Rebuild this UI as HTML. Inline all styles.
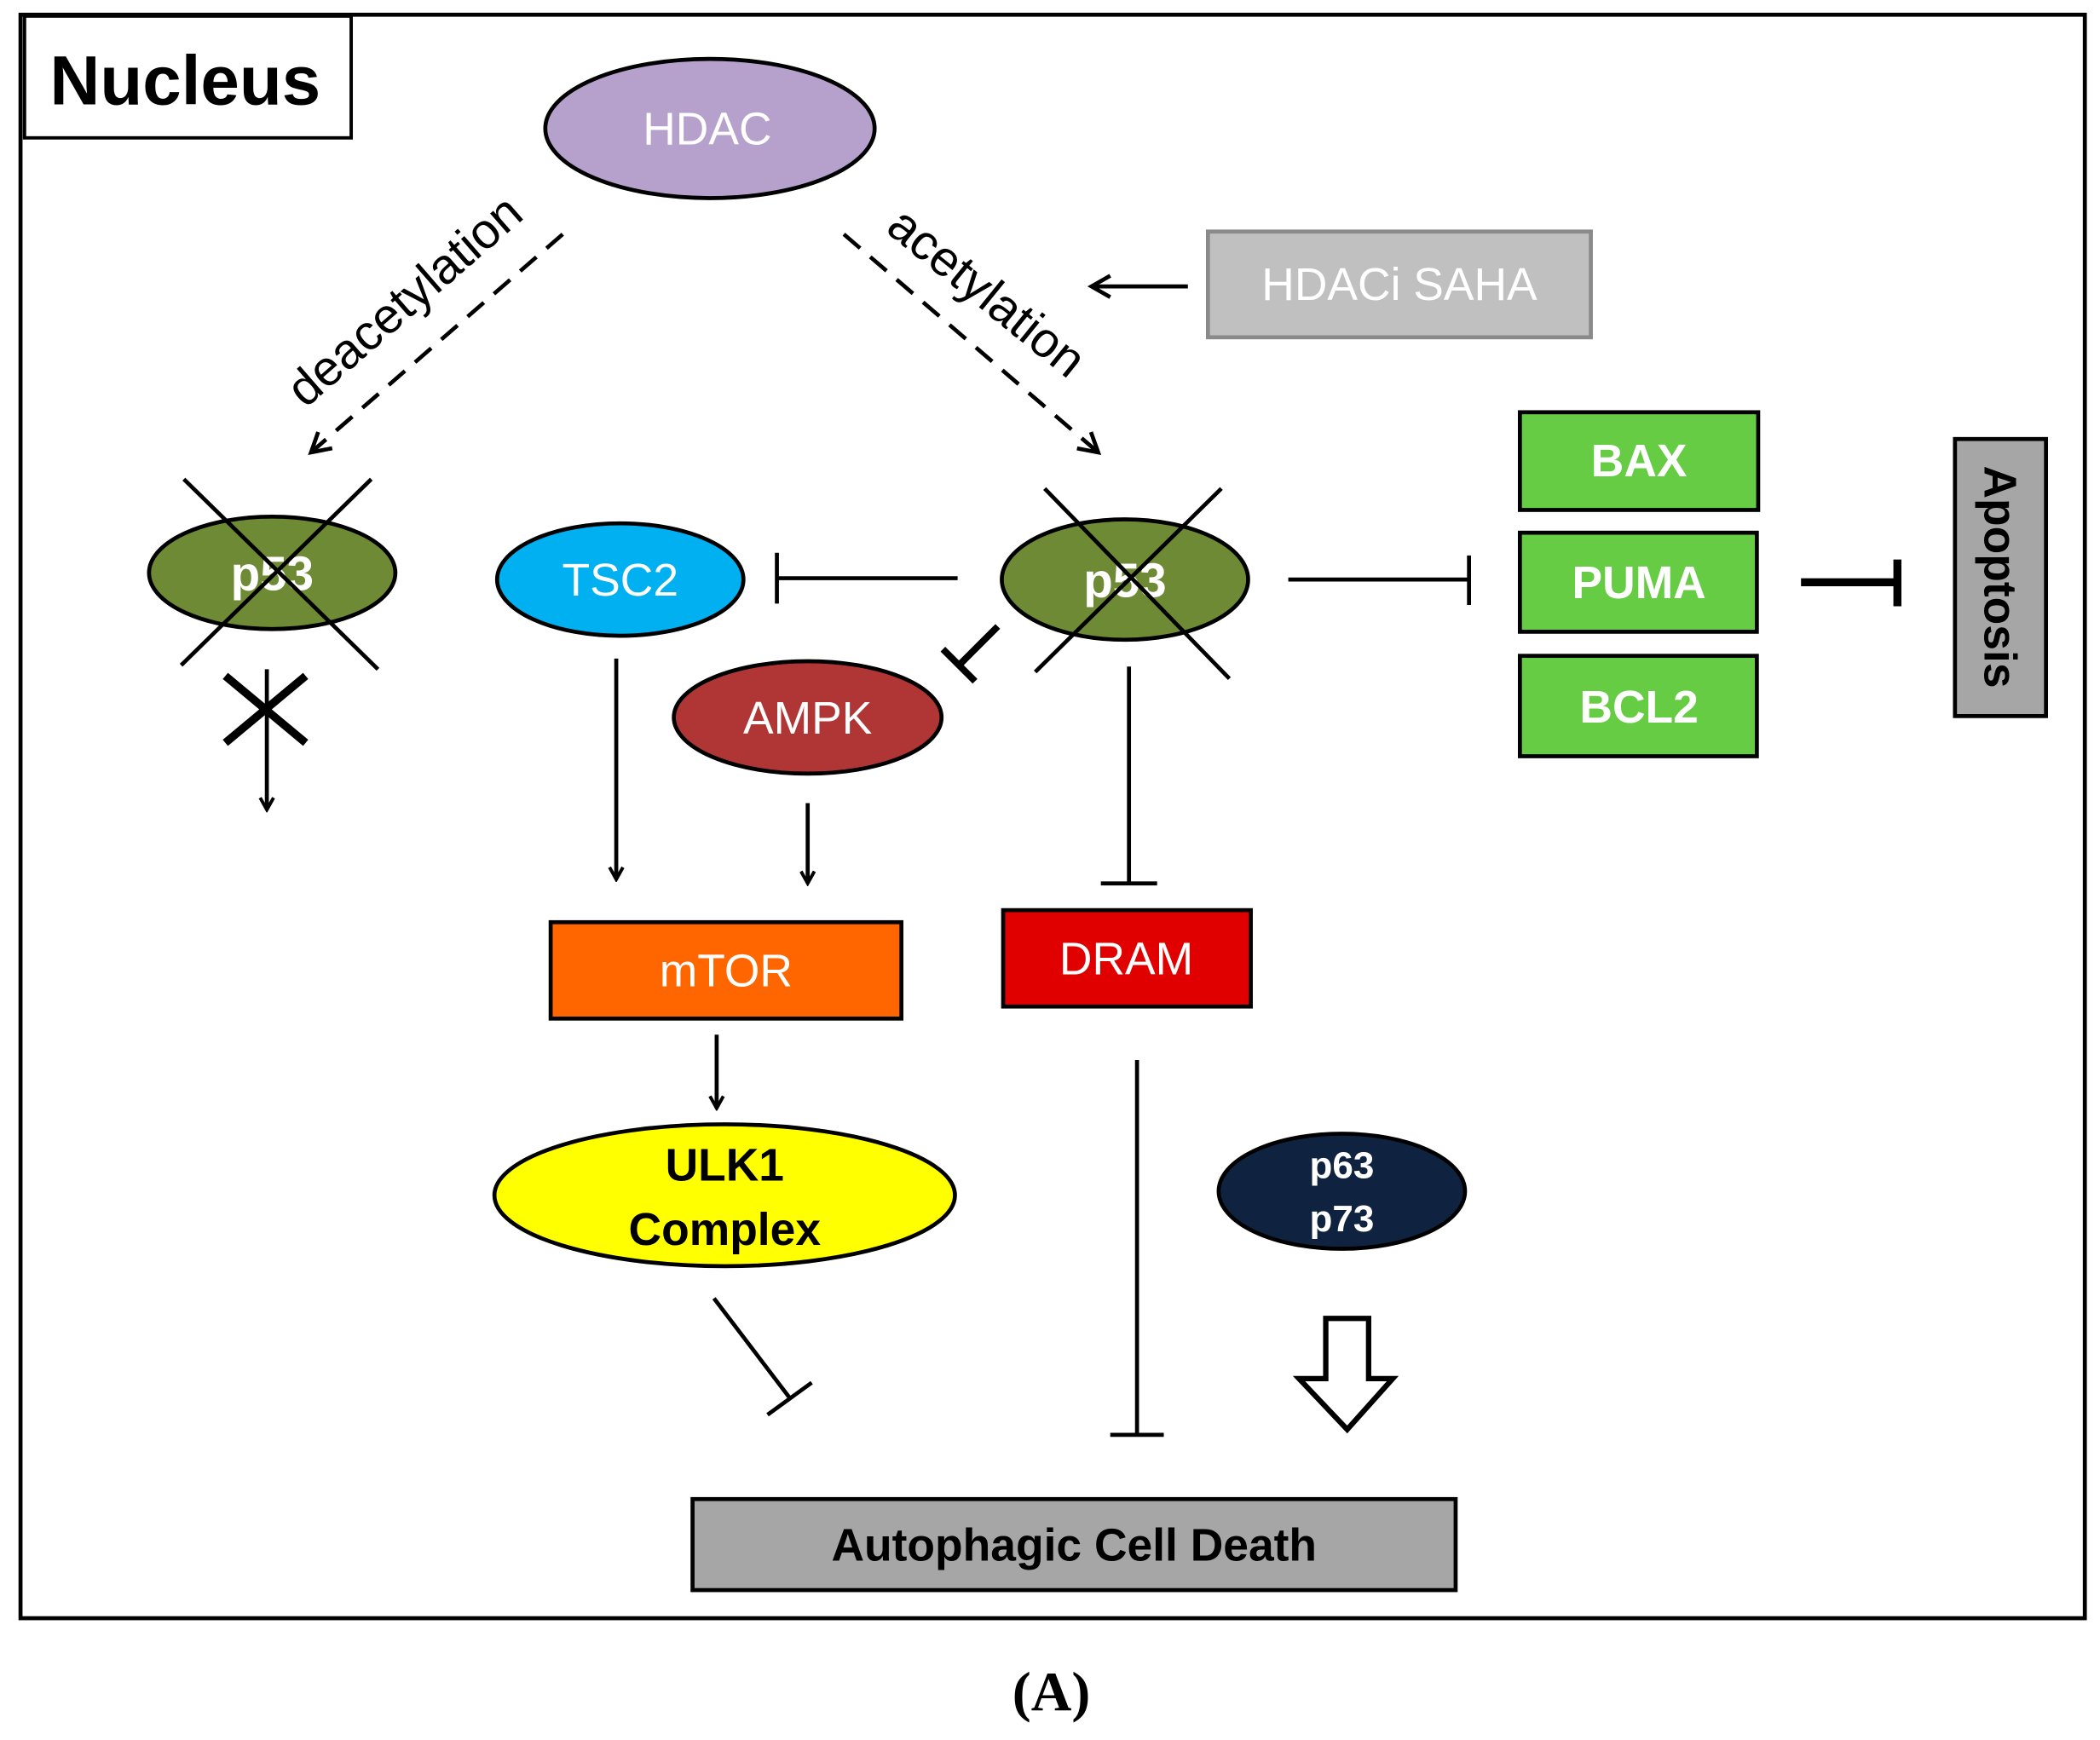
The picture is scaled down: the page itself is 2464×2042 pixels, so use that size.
<!DOCTYPE html>
<html><head><meta charset="utf-8"><style>
html,body{margin:0;padding:0;background:#fff;}
svg{display:block;}
text{font-family:"Liberation Sans",sans-serif;}
</style></head><body>
<svg width="2464" height="2042" viewBox="0 0 1568 1300" xmlns="http://www.w3.org/2000/svg">
<defs>
<marker id="ah" markerWidth="12" markerHeight="12" refX="10" refY="6" orient="auto" markerUnits="userSpaceOnUse">
<path d="M1,1 L10,6 L1,11" fill="none" stroke="#000" stroke-width="2.5"/>
</marker>
<marker id="ah2" markerWidth="20" markerHeight="20" refX="16" refY="10" orient="auto" markerUnits="userSpaceOnUse">
<path d="M2,2 L16,10 L2,18" fill="none" stroke="#000" stroke-width="3"/>
</marker>
</defs>
<rect x="0" y="0" width="1568" height="1300" fill="#fff"/>
<rect x="15" y="11" width="1542" height="1198" fill="none" stroke="#000" stroke-width="3"/>
<rect x="18" y="12" width="244" height="91" fill="#fff" stroke="#000" stroke-width="2.5"/>
<text x="138" y="78" font-size="52" font-weight="bold" text-anchor="middle">Nucleus</text>

<ellipse cx="530" cy="96" rx="123" ry="52" fill="#b6a0cc" stroke="#000" stroke-width="3"/>
<text x="528" y="108" font-size="34" fill="#fff" text-anchor="middle">HDAC</text>

<line x1="420" y1="175" x2="232" y2="338" stroke="#000" stroke-width="3" stroke-dasharray="16,10" marker-end="url(#ah2)"/>
<text transform="translate(310,234) rotate(-41)" font-size="37" text-anchor="middle">deacetylation</text>
<line x1="630" y1="175" x2="820" y2="338" stroke="#000" stroke-width="3" stroke-dasharray="16,10" marker-end="url(#ah2)"/>
<text transform="translate(729,228) rotate(39)" font-size="37" text-anchor="middle">acetylation</text>

<line x1="887" y1="214" x2="815" y2="214" stroke="#000" stroke-width="3" marker-end="url(#ah2)"/>
<rect x="902" y="173" width="286" height="79" fill="#c0c0c0" stroke="#8a8a8a" stroke-width="3"/>
<text x="1045" y="224" font-size="34" fill="#fff" text-anchor="middle">HDACi SAHA</text>

<ellipse cx="203" cy="428" rx="92" ry="42" fill="#6f8a34" stroke="#000" stroke-width="3"/>
<text x="203" y="441" font-size="36" font-weight="bold" fill="#fff" text-anchor="middle">p53</text>
<line x1="137" y1="358" x2="282" y2="500" stroke="#000" stroke-width="3"/>
<line x1="277" y1="358" x2="135" y2="497" stroke="#000" stroke-width="3"/>
<line x1="168" y1="505" x2="228" y2="555" stroke="#000" stroke-width="6"/>
<line x1="228" y1="505" x2="168" y2="555" stroke="#000" stroke-width="6"/>
<line x1="199" y1="500" x2="199" y2="605" stroke="#000" stroke-width="3" marker-end="url(#ah)"/>

<ellipse cx="463" cy="433" rx="92" ry="42" fill="#00b0f0" stroke="#000" stroke-width="3"/>
<text x="463" y="445" font-size="34" fill="#fff" text-anchor="middle">TSC2</text>
<line x1="715" y1="432" x2="580" y2="432" stroke="#000" stroke-width="3"/>
<line x1="580" y1="413" x2="580" y2="451" stroke="#000" stroke-width="3"/>

<ellipse cx="840" cy="433" rx="92" ry="45" fill="#6f8a34" stroke="#000" stroke-width="3"/>
<text x="840" y="446" font-size="36" font-weight="bold" fill="#fff" text-anchor="middle">p53</text>
<line x1="780" y1="365" x2="918" y2="507" stroke="#000" stroke-width="3"/>
<line x1="912" y1="365" x2="773" y2="502" stroke="#000" stroke-width="3"/>

<ellipse cx="603" cy="536" rx="100" ry="42" fill="#b03636" stroke="#000" stroke-width="3"/>
<text x="603" y="548" font-size="34" fill="#fff" text-anchor="middle">AMPK</text>
<line x1="745" y1="468" x2="716" y2="497" stroke="#000" stroke-width="5"/>
<line x1="704" y1="485" x2="728" y2="509" stroke="#000" stroke-width="5"/>

<line x1="460" y1="492" x2="460" y2="657" stroke="#000" stroke-width="3" marker-end="url(#ah)"/>
<line x1="603" y1="600" x2="603" y2="660" stroke="#000" stroke-width="3" marker-end="url(#ah)"/>

<rect x="411" y="689" width="262" height="72" fill="#ff6600" stroke="#000" stroke-width="3"/>
<text x="542" y="737" font-size="34" fill="#fff" text-anchor="middle">mTOR</text>
<rect x="749" y="680" width="185" height="72" fill="#e00000" stroke="#000" stroke-width="3"/>
<text x="841" y="728" font-size="34" fill="#fff" text-anchor="middle">DRAM</text>
<line x1="843" y1="498" x2="843" y2="660" stroke="#000" stroke-width="3"/>
<line x1="822" y1="660" x2="864" y2="660" stroke="#000" stroke-width="3"/>

<line x1="535" y1="773" x2="535" y2="828" stroke="#000" stroke-width="3" marker-end="url(#ah)"/>
<ellipse cx="541" cy="893" rx="172" ry="53" fill="#ffff00" stroke="#000" stroke-width="3"/>
<text x="541" y="882" font-size="34" font-weight="bold" text-anchor="middle">ULK1</text>
<text x="541" y="930" font-size="34" font-weight="bold" text-anchor="middle">Complex</text>

<line x1="533" y1="970" x2="590" y2="1045" stroke="#000" stroke-width="3"/>
<line x1="573" y1="1057" x2="606" y2="1033" stroke="#000" stroke-width="3"/>
<line x1="849" y1="792" x2="849" y2="1072" stroke="#000" stroke-width="3"/>
<line x1="829" y1="1072" x2="869" y2="1072" stroke="#000" stroke-width="3"/>

<ellipse cx="1002" cy="890" rx="92" ry="43" fill="#0f2340" stroke="#000" stroke-width="3"/>
<text x="1002" y="880" font-size="28" font-weight="bold" fill="#fff" text-anchor="middle">p63</text>
<text x="1002" y="920" font-size="28" font-weight="bold" fill="#fff" text-anchor="middle">p73</text>
<path d="M990,985 L1022,985 L1022,1030 L1040,1030 L1006,1068 L970,1030 L990,1030 Z" fill="#fff" stroke="#000" stroke-width="4" stroke-linejoin="miter"/>

<rect x="517" y="1120" width="570" height="68" fill="#a6a6a6" stroke="#000" stroke-width="3"/>
<text x="802" y="1166" font-size="34" font-weight="bold" text-anchor="middle">Autophagic Cell Death</text>

<line x1="962" y1="433" x2="1097" y2="433" stroke="#000" stroke-width="3"/>
<line x1="1097" y1="415" x2="1097" y2="452" stroke="#000" stroke-width="3"/>

<rect x="1135" y="308" width="178" height="73" fill="#66cc44" stroke="#000" stroke-width="3"/>
<text x="1224" y="356" font-size="34" font-weight="bold" fill="#fff" text-anchor="middle">BAX</text>
<rect x="1135" y="398" width="177" height="74" fill="#66cc44" stroke="#000" stroke-width="3"/>
<text x="1224" y="447" font-size="34" font-weight="bold" fill="#fff" text-anchor="middle">PUMA</text>
<rect x="1135" y="490" width="177" height="75" fill="#66cc44" stroke="#000" stroke-width="3"/>
<text x="1224" y="540" font-size="34" font-weight="bold" fill="#fff" text-anchor="middle">BCL2</text>

<line x1="1345" y1="435" x2="1417" y2="435" stroke="#000" stroke-width="6"/>
<line x1="1417" y1="418" x2="1417" y2="453" stroke="#000" stroke-width="6"/>

<rect x="1460" y="328" width="68" height="207" fill="#a6a6a6" stroke="#000" stroke-width="3"/>
<text transform="translate(1482,431) rotate(90)" font-size="34" font-weight="bold" text-anchor="middle">Apoptosis</text>

<text x="785" y="1278" font-size="42" font-weight="bold" text-anchor="middle" style="font-family:'Liberation Serif',serif">(A)</text>
</svg>
</body></html>
